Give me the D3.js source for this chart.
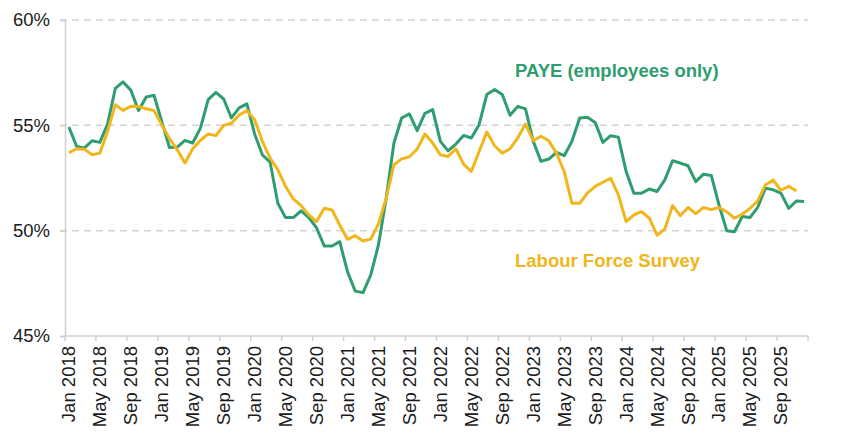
<!DOCTYPE html>
<html><head><meta charset="utf-8">
<script src="https://cdn.jsdelivr.net/npm/d3@7"></script>
<style>
html,body{margin:0;padding:0;background:#fff;}
svg{display:block;font-family:"Liberation Sans",Arial,sans-serif;}
</style></head>
<body><svg id="chart" width="848" height="443"></svg>
<script>
// Monthly categories Jan 2018 – Dec 2025
const months = d3.timeMonths(new Date(2018,0,1), new Date(2026,0,1)).map(d3.timeFormat("%b %Y"));
const tickLabels = ["Jan 2018","May 2018","Sep 2018","Jan 2019","May 2019","Sep 2019","Jan 2020","May 2020","Sep 2020","Jan 2021","May 2021","Sep 2021","Jan 2022","May 2022","Sep 2022","Jan 2023","May 2023","Sep 2023","Jan 2024","May 2024","Sep 2024","Jan 2025","May 2025","Sep 2025"];
const yTicks = [45,50,55,60];
const paye = [54.92,54.0,53.92,54.27,54.19,55.06,56.75,57.06,56.67,55.7,56.35,56.43,
55.19,53.95,53.97,54.29,54.16,54.87,56.22,56.56,56.25,55.35,55.83,56.02,
54.59,53.6,53.25,51.3,50.62,50.62,50.94,50.62,50.14,49.27,49.27,49.48,
48.05,47.13,47.06,47.89,49.32,51.54,54.16,55.35,55.54,54.75,55.57,55.75,
54.24,53.79,54.11,54.52,54.4,55.03,56.46,56.7,56.46,55.48,55.9,55.78,
54.24,53.29,53.4,53.71,53.56,54.24,55.35,55.38,55.14,54.19,54.51,54.44,
52.81,51.78,51.78,51.98,51.86,52.41,53.32,53.21,53.08,52.33,52.68,52.62,
51.22,50.0,49.95,50.67,50.62,51.11,52.02,51.94,51.78,51.06,51.41,51.38];
const lfs = [53.7,53.89,53.87,53.6,53.68,54.71,55.98,55.71,55.9,55.89,55.79,55.7,
55.03,54.37,53.84,53.21,53.89,54.29,54.59,54.51,55.0,55.1,55.49,55.7,
55.27,54.24,53.44,52.89,52.1,51.51,51.19,50.75,50.43,51.06,50.98,50.27,
49.59,49.76,49.51,49.6,50.32,51.54,53.13,53.41,53.51,53.87,54.59,54.16,
53.6,53.52,53.89,53.16,52.81,53.76,54.68,54.03,53.68,53.89,54.4,55.06,
54.27,54.48,54.27,53.68,52.81,51.3,51.3,51.78,52.1,52.3,52.49,51.7,
50.43,50.75,50.9,50.59,49.79,50.08,51.19,50.71,51.1,50.81,51.1,51.0,
51.1,50.9,50.59,50.78,51.06,51.41,52.17,52.4,51.92,52.11,51.89];
const seriesNames = ["PAYE (employees only)","Labour Force Survey"];
const colors = ["#2e9d70","#f2b51b"];

const svg = d3.select("#chart");
const L = 65, R = 808, T = 20, B = 336;
const x = d3.scaleBand().domain(months).range([L,R]).padding(0);
const xb = d3.scaleLinear().domain([0, months.length]).range([L,R]);
const y = d3.scaleLinear().domain([45,60]).range([B,T]);
const fmt = v => v + "%";

// gridlines
svg.append("g").selectAll("line").data(yTicks.filter(v=>v>45)).join("line")
  .attr("x1", L-5).attr("x2", R).attr("y1", d=>y(d)).attr("y2", d=>y(d))
  .attr("stroke","#d3d3d3").attr("stroke-width",1.5).attr("stroke-dasharray","7,5");

// y axis
const ya = svg.append("g").attr("transform",`translate(${L},0)`)
  .call(d3.axisLeft(y).tickValues(yTicks).tickFormat(fmt).tickSize(5).tickPadding(10));
ya.select(".domain").attr("stroke","#d0d0d0").attr("stroke-width",1.5);
ya.selectAll(".tick line").attr("stroke","#d0d0d0").attr("stroke-width",1.5);
ya.selectAll("text").attr("font-size",18.5).attr("fill","#1a1a1a").attr("font-family","Liberation Sans, Arial, sans-serif");

// x axis tick marks at category boundaries every 4 months
const bounds = d3.range(0, months.length+1, 4);
svg.append("g").selectAll("line").data(bounds).join("line")
  .attr("x1", d=>xb(d)).attr("x2", d=>xb(d)).attr("y1", B).attr("y2", B+5)
  .attr("stroke","#d0d0d0").attr("stroke-width",1.5);
svg.append("line").attr("x1",L).attr("x2",R).attr("y1",B).attr("y2",B)
  .attr("stroke","#d0d0d0").attr("stroke-width",1.5);

// x labels
const xa = svg.append("g").attr("transform",`translate(0,${B})`)
  .call(d3.axisBottom(x).tickValues(tickLabels).tickSize(0));
xa.select(".domain").remove();
xa.selectAll("text").attr("font-size",18.5).attr("fill","#1a1a1a")
  .attr("font-family","Liberation Sans, Arial, sans-serif")
  .attr("transform","rotate(-90)").attr("text-anchor","end")
  .attr("x",-10).attr("y",0).attr("dy","0.35em");

// lines
const line = d3.line().x((d,i)=>x(months[i]) + x.bandwidth()/2).y(d=>y(d));
[paye, lfs].forEach((s,k)=>{
  svg.append("path").datum(s).attr("d",line).attr("fill","none")
    .attr("stroke",colors[k]).attr("stroke-width",3).attr("stroke-linejoin","round");
});

// labels
svg.append("text").attr("x",515).attr("y",77).text(seriesNames[0])
  .attr("font-size",18.5).attr("font-weight","bold").attr("fill",colors[0]);
svg.append("text").attr("x",515).attr("y",267).text(seriesNames[1])
  .attr("font-size",18.5).attr("font-weight","bold").attr("fill",colors[1]);
</script></body></html>
